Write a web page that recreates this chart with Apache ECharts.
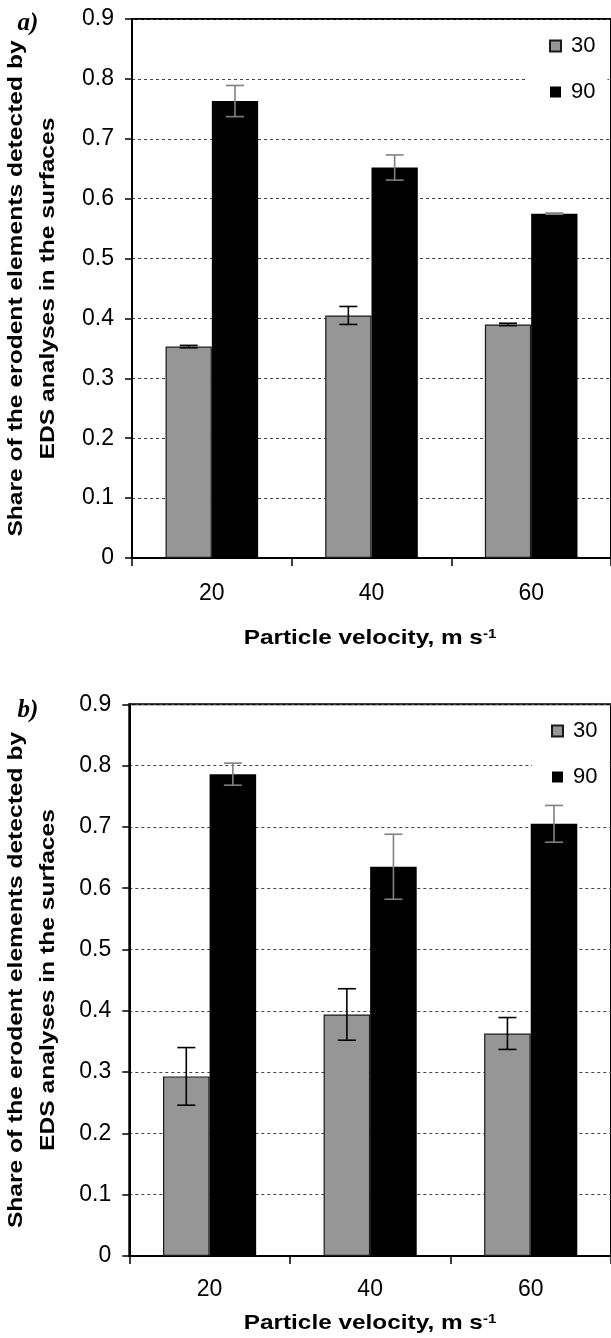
<!DOCTYPE html>
<html>
<head>
<meta charset="utf-8">
<script src="https://cdn.jsdelivr.net/npm/echarts@6/dist/echarts.min.js"></script>
<style>
  html, body { margin: 0; padding: 0; background: #fff; }
  #main { width: 611px; height: 1338px; }
</style>
</head>
<body>
<div id="main"></div>
<script>
// 横坐标：颗粒速度
const velocities = ['20', '40', '60'];
// 纵坐标刻度
const yMin = 0;
const yMax = 0.9;
const yStep = 0.1;

// a) 图数据
const a30 = [0.353, 0.405, 0.390];
const a30Err = [0.002, 0.015, 0.002];
const a90 = [0.763, 0.652, 0.575];
const a90Err = [0.026, 0.021, 0.001];

// b) 图数据
const b30 = [0.293, 0.394, 0.363];
const b30Err = [0.047, 0.042, 0.026];
const b90 = [0.786, 0.635, 0.705];
const b90Err = [0.018, 0.053, 0.030];

const FONT = '"Liberation Sans", Arial, sans-serif';
const BAR_W = 0.29; // 柱宽占类目宽度比例

// 组装误差线数据
function errRows(vals, errs) {
  return vals.map((v, i) => [i, v, errs[i]]);
}

// 误差线绘制，side=-1 左柱，side=1 右柱
function errorBar(side, color) {
  return function (params, api) {
    const idx = api.value(0);
    const val = api.value(1);
    const err = api.value(2);
    const band = api.size([1, 0])[0];
    const c = api.coord([idx, val]);
    const x = c[0] + side * band * BAR_W / 2;
    const hi = api.coord([idx, val + err])[1];
    const lo = api.coord([idx, val - err])[1];
    const cap = 9;
    const style = { stroke: color, lineWidth: 1.6 };
    return {
      type: 'group',
      children: [
        { type: 'line', shape: { x1: x, y1: hi, x2: x, y2: lo }, style: style },
        { type: 'line', shape: { x1: x - cap, y1: hi, x2: x + cap, y2: hi }, style: style },
        { type: 'line', shape: { x1: x - cap, y1: lo, x2: x + cap, y2: lo }, style: style }
      ]
    };
  };
}

function xAxisOf(gridIndex, margin) {
  return {
    type: 'category',
    gridIndex: gridIndex,
    data: velocities,
    axisLine: { show: true, lineStyle: { color: '#000', width: 2 } },
    axisTick: { show: true, length: 8, lineStyle: { color: '#000', width: 1.5 } },
    axisLabel: { color: '#000', fontSize: 23, fontFamily: FONT, margin: margin },
    splitLine: { show: false }
  };
}

function yAxisOf(gridIndex) {
  return {
    type: 'value',
    gridIndex: gridIndex,
    min: yMin,
    max: yMax,
    interval: yStep,
    axisLine: { show: true, lineStyle: { color: '#000', width: 2 } },
    axisTick: { show: true, length: 7, lineStyle: { color: '#000', width: 1.5 } },
    axisLabel: {
      color: '#000', fontSize: 23, fontFamily: FONT, margin: 18,
      formatter: v => (v === 0 ? '0' : v.toFixed(1))
    },
    splitLine: { show: true, lineStyle: { color: '#444', width: 1, type: [3, 3] } }
  };
}

function legendOf(left, top, padLeft) {
  return {
    data: ['30', '90'],
    orient: 'vertical',
    left: left,
    top: top,
    backgroundColor: '#fff',
    padding: [10, 12, 10, padLeft],
    itemWidth: 11,
    itemHeight: 11,
    itemGap: 24,
    icon: 'rect',
    selectedMode: false,
    textStyle: { color: '#000', fontSize: 22, fontFamily: FONT, lineHeight: 22, padding: [0, 0, 0, 5] }
  };
}

const gray = { color: '#969696', borderColor: '#1a1a1a', borderWidth: 1.2 };
const black = { color: '#000' };

function barsOf(idx, v30, v90) {
  return [
    { name: '30', type: 'bar', xAxisIndex: idx, yAxisIndex: idx, data: v30,
      barWidth: (BAR_W * 100) + '%', barGap: '0%', itemStyle: gray },
    { name: '90', type: 'bar', xAxisIndex: idx, yAxisIndex: idx, data: v90,
      barWidth: (BAR_W * 100) + '%', barGap: '0%', itemStyle: black }
  ];
}

function errsOf(idx, v30, e30, v90, e90) {
  return [
    { name: 'err30_' + idx, type: 'custom', xAxisIndex: idx, yAxisIndex: idx, z: 5,
      renderItem: errorBar(-1, '#000'), data: errRows(v30, e30), encode: { x: 0, y: 1 } },
    { name: 'err90_' + idx, type: 'custom', xAxisIndex: idx, yAxisIndex: idx, z: 5,
      renderItem: errorBar(1, '#808080'), data: errRows(v90, e90), encode: { x: 0, y: 1 } }
  ];
}

// 坐标轴标题等文字
function yTitle(cy) {
  const base = { font: 'bold 20px ' + FONT, fill: '#000', align: 'center', verticalAlign: 'middle' };
  return [
    { type: 'text', x: 16.5, y: cy, rotation: Math.PI / 2, scaleX: 1.23,
      style: Object.assign({ text: 'Share of the erodent elements detected by' }, base) },
    { type: 'text', x: 48, y: cy, rotation: Math.PI / 2, scaleX: 1.23,
      style: Object.assign({ text: 'EDS analyses in the surfaces' }, base) }
  ];
}

function xTitle(cx, cy) {
  return {
    type: 'text', x: cx, y: cy, scaleX: 1.16,
    style: {
      text: '{a|Particle velocity, m s}{b|-1}',
      align: 'center', verticalAlign: 'middle', fill: '#000',
      rich: {
        a: { font: 'bold 21px ' + FONT, fill: '#000' },
        b: { font: 'bold 13px ' + FONT, fill: '#000', verticalAlign: 'top' }
      }
    }
  };
}

function panelTag(txt, cx, cy) {
  return {
    type: 'text', x: cx, y: cy,
    style: { text: txt, font: 'italic bold 25px "Liberation Serif", serif', fill: '#000',
      align: 'center', verticalAlign: 'middle' }
  };
}

const chart = echarts.init(document.getElementById('main'), null, { renderer: 'canvas' });

chart.setOption({
  animation: false,
  backgroundColor: '#fff',
  grid: [
    { left: 132, top: 19, width: 481.5, height: 539, show: true, borderColor: '#000', borderWidth: 2 },
    { left: 129.3, top: 704.3, width: 486, height: 551.7, show: true, borderColor: '#000', borderWidth: 2 }
  ],
  xAxis: [xAxisOf(0, 24), xAxisOf(1, 22)],
  yAxis: [yAxisOf(0), yAxisOf(1)],
  legend: [legendOf(525, 25, 24), legendOf(532, 710, 19)],
  series: [].concat(
    barsOf(0, a30, a90),
    errsOf(0, a30, a30Err, a90, a90Err),
    barsOf(1, b30, b90),
    errsOf(1, b30, b30Err, b90, b90Err)
  ),
  graphic: [].concat(
    yTitle(288.5),
    yTitle(980),
    [xTitle(370, 638), xTitle(370, 1323), panelTag('a)', 28, 24), panelTag('b)', 28, 711)]
  )
});
</script>
</body>
</html>
